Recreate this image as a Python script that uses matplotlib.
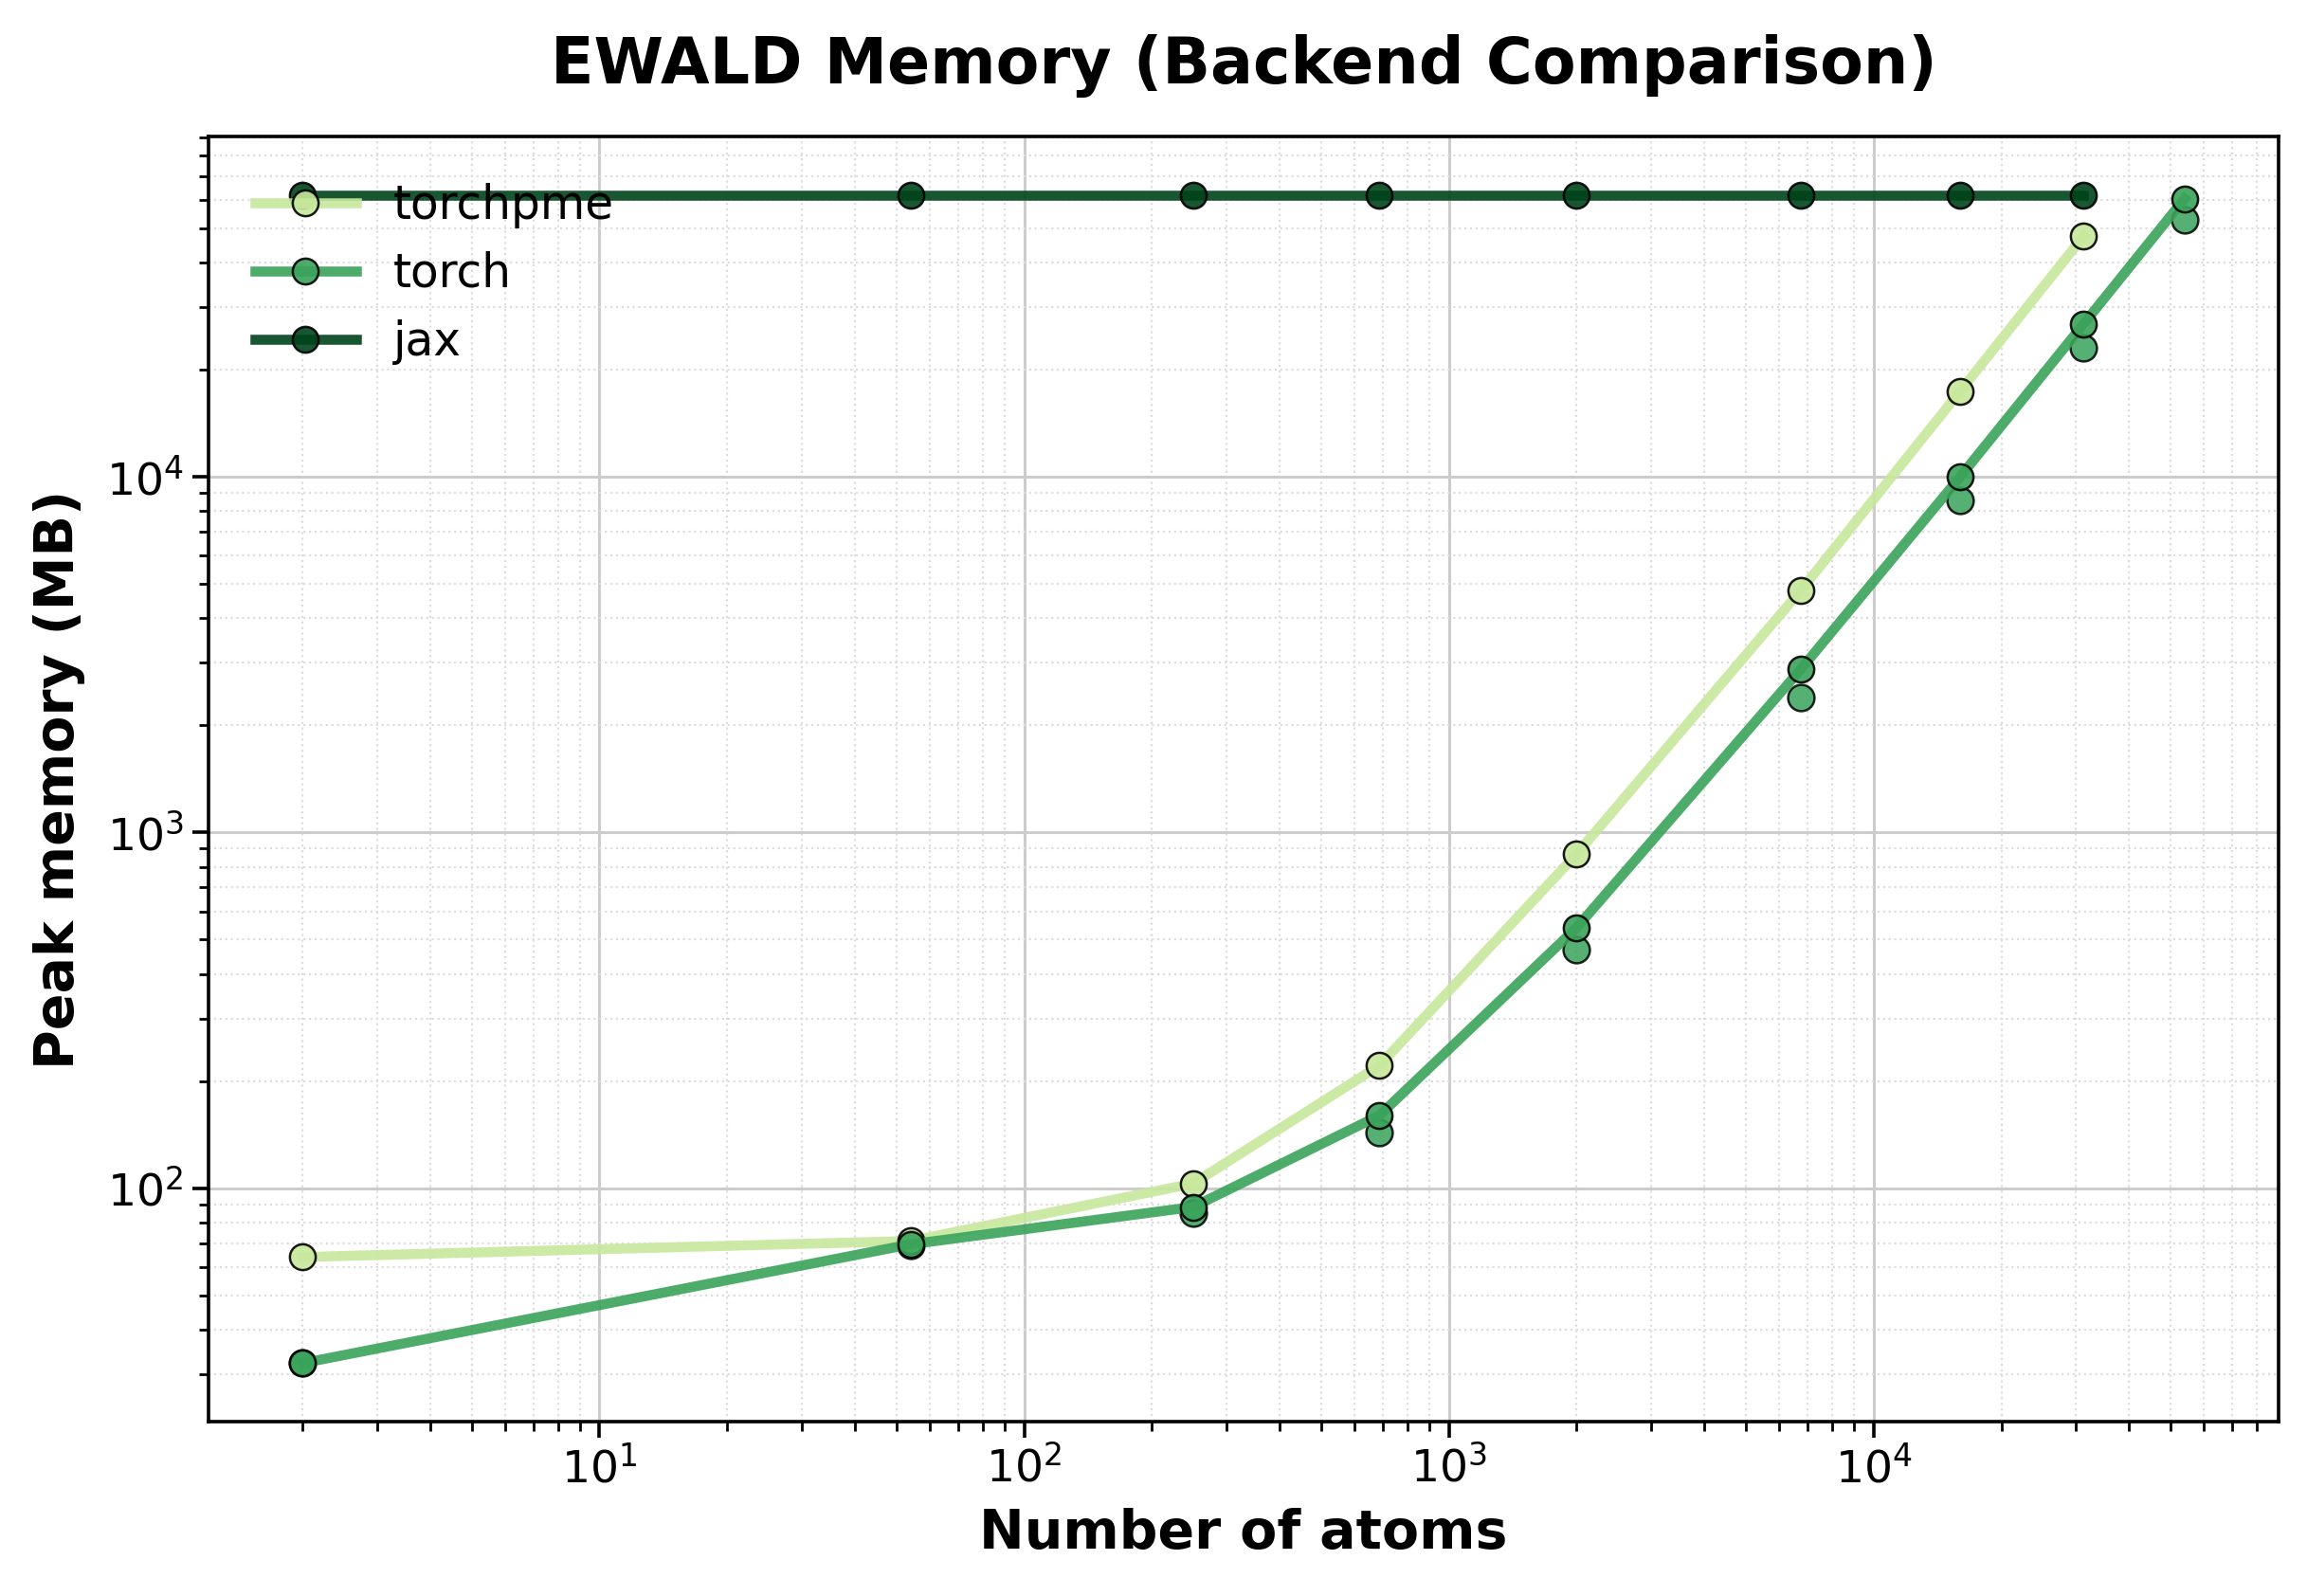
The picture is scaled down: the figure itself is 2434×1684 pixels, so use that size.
import matplotlib
matplotlib.use("Agg")
import matplotlib.pyplot as plt

# ------------ data -------------#
n_atoms = [2, 54, 250, 686, 2000, 6750, 16000, 31250, 54000]

torchpme_mem = [64, 71, 103, 221, 870, 4800, 17400, 47500]
torch_mem = [32.2, 69.5, 88.5, 160, 540, 2880, 10000, 26900, 60500]
torch_mem_alt = [32.2, 69.0, 85, 143, 468, 2400, 8600, 23100, 52800]  # second torch run, markers only
jax_mem = [62000] * 8

series = [
    ("torchpme", n_atoms[:8], torchpme_mem, "#c7e89c"),
    ("torch", n_atoms, torch_mem, "#3aa35a"),
    ("jax", n_atoms[:8], jax_mem, "#00441b"),
]

# ------------ plotting -------------#
fig = plt.figure(figsize=(12.17, 8.42), dpi=200)
ax = fig.add_axes([0.0904, 0.1093, 0.8973, 0.8052])

ax.scatter(n_atoms, torch_mem_alt, s=100, color="#3aa35a", edgecolor="black",
           linewidth=0.9, alpha=0.85, zorder=3)

for name, x, y, color in series:
    ax.plot(x, y, "-o", color=color, label=name, linewidth=3.8, alpha=0.9,
            markersize=9.8, markeredgecolor="black", markeredgewidth=0.9, zorder=4)

ax.set_xscale("log")
ax.set_yscale("log")

ax.set_title("EWALD Memory (Backend Comparison)", fontsize=24, fontweight="bold", pad=20)
ax.set_xlabel("Number of atoms", fontsize=20.5, fontweight="bold", labelpad=6)
ax.set_ylabel("Peak memory (MB)", fontsize=20.5, fontweight="bold", labelpad=8)

ax.grid(which="major", color="#cccccc", linestyle="-", linewidth=1.1)
ax.grid(which="minor", color="#dddddd", linestyle=":", linewidth=0.8)
ax.set_axisbelow(True)

ax.tick_params(axis="both", which="major", labelsize=17, length=6, width=1.3)
ax.tick_params(axis="both", which="minor", length=3.5, width=1.0)
for sp in ax.spines.values():
    sp.set_linewidth(1.3)

ax.legend(loc="upper left", fontsize=17.5, frameon=False, handlelength=2.2,
          borderaxespad=0.6)

fig.savefig("out.png", dpi=200)
